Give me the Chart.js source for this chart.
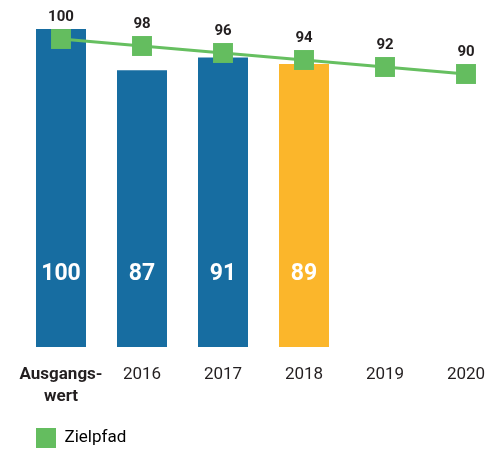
<!DOCTYPE html>
<html><head><meta charset="utf-8">
<script src="https://cdn.jsdelivr.net/npm/chart.js@4/dist/chart.umd.min.js"></script>
<style>html,body{margin:0;padding:0;background:#fff}#wrap{width:486px;height:452px;position:relative}</style>
</head><body><div id="wrap"><canvas id="c" width="486" height="452"></canvas></div>
<script>
const categories = [["Ausgangs-","wert"], "2016", "2017", "2018", "2019", "2020"];
const actualValues = [100, 87, 91, 89, null, null];
const targetPath = [100, 98, 96, 94, 92, 90];
const barColors = ["#176da1", "#176da1", "#176da1", "#fbb62b", "#176da1", "#176da1"];
const lineLabel = "Zielpfad";

const FONT = "Roboto, 'Open Sans', sans-serif";
const TEXT = "#231f20";

const labelPlugin = {
  id: 'labels',
  afterDatasetsDraw(chart) {
    const ctx = chart.ctx;
    const y = chart.scales.y;
    ctx.save();
    ctx.textAlign = 'center';
    const barMeta = chart.getDatasetMeta(0);
    ctx.fillStyle = '#ffffff';
    ctx.font = "bold 23px " + FONT;
    ctx.textBaseline = 'middle';
    barMeta.data.forEach((el, i) => {
      const v = actualValues[i];
      if (v == null) return;
      ctx.fillText(String(v), el.x, y.getPixelForValue(0) - 73);
    });
    const lineMeta = chart.getDatasetMeta(1);
    ctx.fillStyle = TEXT;
    ctx.font = "bold 15px " + FONT;
    ctx.textBaseline = 'alphabetic';
    lineMeta.data.forEach((el, i) => {
      ctx.fillText(String(targetPath[i]), el.x, el.y - 18);
    });
    ctx.restore();
  }
};

new Chart(document.getElementById('c'), {
  data: {
    labels: categories,
    datasets: [
      {
        type: 'bar',
        label: 'Ist',
        data: actualValues,
        backgroundColor: barColors,
        borderWidth: 0,
        barPercentage: 1,
        categoryPercentage: 50/81,
        clip: false,
        yAxisID: 'y',
        order: 2
      },
      {
        type: 'line',
        label: lineLabel,
        data: targetPath,
        borderColor: '#66bf60',
        backgroundColor: '#64bd5f',
        borderWidth: 3,
        pointStyle: 'rect',
        pointRadius: 14.1,
        pointHoverRadius: 14.1,
        pointBorderWidth: 0,
        pointBackgroundColor: '#64bd5f',
        clip: false,
        yAxisID: 'y1',
        order: 1
      }
    ]
  },
  options: {
    responsive: false,
    animation: false,
    devicePixelRatio: 1,
    layout: { padding: { left: 26, right: 20, top: 29, bottom: -6 } },
    scales: {
      x: {
        offset: false,
        grid: { display: false, drawTicks: false },
        border: { display: false },
        ticks: {
          color: TEXT,
          padding: 17,
          maxRotation: 0,
          autoSkip: false,
          font: (c) => ({ family: FONT, size: 17, weight: c.index === 0 ? 'bold' : 'normal', lineHeight: 1.3 })
        },
        afterFit(scale) { scale.height = 71; scale.paddingLeft = 0; scale.paddingRight = 0; }
      },
      y: {
        min: 0, max: 100,
        grid: { display: false, drawTicks: false },
        border: { display: false },
        ticks: { display: false },
        afterFit(scale) { scale.width = 35; }
      },
      y1: {
        min: 12, max: 102.857,
        display: false
      }
    },
    plugins: {
      legend: {
        position: 'bottom',
        align: 'start',
        labels: {
          boxWidth: 20,
          boxHeight: 20,
          padding: 10,
          color: TEXT,
          font: { family: FONT, size: 17 },
          generateLabels: (chart) => [{
            text: lineLabel, fillStyle: '#64bd5f', strokeStyle: '#64bd5f', lineWidth: 0, datasetIndex: 1, hidden: false
          }]
        }
      },
      tooltip: { enabled: false }
    }
  },
  plugins: [labelPlugin]
});
</script></body></html>
